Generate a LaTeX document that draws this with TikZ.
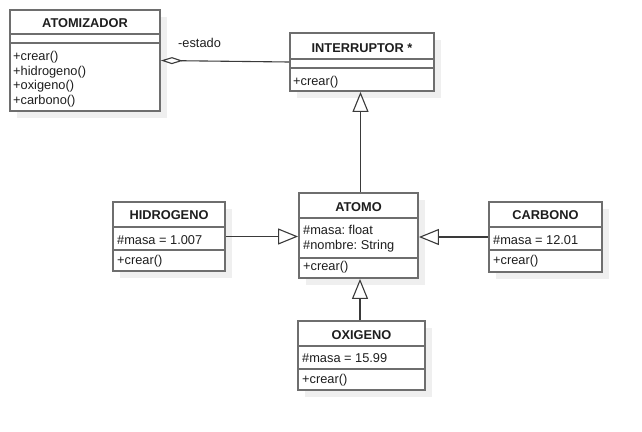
\documentclass[tikz,border=0pt]{standalone}
\usepackage{fontspec}
\setmainfont{Liberation Sans}
\usetikzlibrary{arrows.meta,fit}
\frenchspacing

\definecolor{boxgray}{HTML}{6E6E6E}
\definecolor{shadegray}{HTML}{EFEFEF}
\definecolor{linkgray}{HTML}{3A3A3A}
\definecolor{txtgray}{HTML}{1E1E1E}

\tikzset{
  classbox/.style={draw=boxgray, line width=1.8pt, fill=white, inner sep=0pt, fit={#1}},
  divider/.style={boxgray, line width=1.8pt},
  title/.style={anchor=base, inner sep=0pt, yshift=-1pt, text=txtgray, font=\fontsize{12.8}{14.5}\selectfont\bfseries},
  member/.style={anchor=base west, inner sep=0pt, yshift=-1.2pt, text=txtgray, font=\fontsize{12.8}{14.5}\selectfont},
  gen/.style={linkgray, line width=1.1pt, -{Triangle[fill=white, length=20pt, width=16pt]}},
  agg/.style={linkgray, line width=1.1pt, -{Diamond[fill=white, length=22pt, width=7pt]}}
}

% frame of a class: name, left, top, right, line 1, line 2, bottom
\newcommand{\umlframe}[7]{%
  \fill[shadegray] (#2+7,#3+7) rectangle (#4+7,#7+7);
  \node[classbox={(#2,#3) (#4,#7)}] (#1) {};
  \draw[divider] (#2,#5) -- (#4,#5) (#2,#6) -- (#4,#6);
}

\begin{document}
\begin{tikzpicture}[x=1pt,y=-1pt]
  \useasboundingbox (0,0) rectangle (642,431);

  % ATOMIZADOR
  \umlframe{atomizador}{10}{10}{160}{34}{43}{111}
  \node[title] (atomizador-t) at (85,26.5) {ATOMIZADOR};
  \node[member] (atomizador-m1) at (13,59.5) {+crear()};
  \node[member] (atomizador-m2) at (13,74) {+hidrogeno()};
  \node[member] (atomizador-m3) at (13,88.5) {+oxigeno()};
  \node[member] (atomizador-m4) at (13,103) {+carbono()};

  % INTERRUPTOR
  \umlframe{interruptor}{290}{33}{434}{59}{68}{91}
  \node[title] (interruptor-t) at (362,51) {INTERRUPTOR *};
  \node[member] (interruptor-m1) at (293,84.5) {+crear()};

  % ATOMO
  \umlframe{atomo}{299}{193}{418}{218}{258}{278}
  \node[title] (atomo-t) at (358.5,210) {ATOMO};
  \node[member] (atomo-a1) at (303,233) {\#masa: float};
  \node[member] (atomo-a2) at (303,248) {\#nombre: String};
  \node[member] (atomo-m1) at (303,269.5) {+crear()};

  % HIDROGENO
  \umlframe{hidrogeno}{113}{202}{225}{227}{250}{271}
  \node[title] (hidrogeno-t) at (169,218.5) {HIDROGENO};
  \node[member] (hidrogeno-a1) at (117,243) {\#masa = 1.007};
  \node[member] (hidrogeno-m1) at (117,263.5) {+crear()};

  % CARBONO
  \umlframe{carbono}{489}{202}{602}{227}{250}{272}
  \node[title] (carbono-t) at (545.5,218.5) {CARBONO};
  \node[member] (carbono-a1) at (493,243) {\#masa = 12.01};
  \node[member] (carbono-m1) at (493,263.5) {+crear()};

  % OXIGENO
  \umlframe{oxigeno}{298}{321}{425}{346}{369}{390}
  \node[title] (oxigeno-t) at (361.5,338) {OXIGENO};
  \node[member] (oxigeno-a1) at (302,361.7) {\#masa = 15.99};
  \node[member] (oxigeno-m1) at (302,382.5) {+crear()};

  % relations
  \draw[agg] (interruptor.west) -- (atomizador.east);
  \node[member] (estado) at (178,46.5) {-estado};
  \draw[gen] ([xshift=2pt]atomo.north) -- ([xshift=2pt]atomo.north |- interruptor.south);
  \draw[gen] (hidrogeno.east) -- (hidrogeno.east -| atomo.west);
  \draw[gen] (carbono.west) -- (carbono.west -| atomo.east);
  \draw[gen] ([xshift=1.5pt]oxigeno.north -| atomo.south) -- ([xshift=1.5pt]atomo.south);
\end{tikzpicture}
\end{document}
